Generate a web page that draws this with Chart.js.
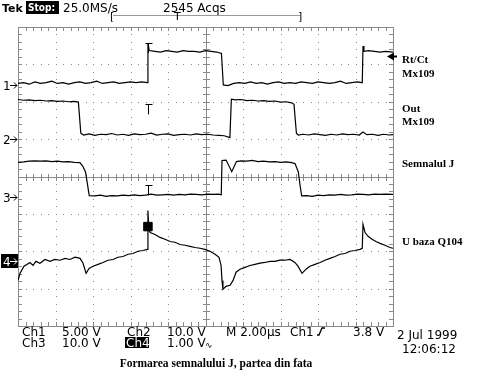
<!DOCTYPE html>
<html>
<head>
<meta charset="utf-8">
<script src="https://cdn.jsdelivr.net/npm/chart.js@4"></script>
<style>
  body { margin: 0; background: #fff; }
  canvas { display: block; }
</style>
</head>
<body>
<canvas id="scope" width="480" height="384"></canvas>
<script>
// data: time in µs (2 µs/div), values in volts

// Ch1 - Rt/Ct Mx109 (5 V/div)
const ch1Time = [0,0.3,0.6,0.9,1.2,1.5,1.8,2.1,2.4,2.7,3.0,3.3,3.6,3.9,4.2,4.5,4.8,5.1,5.4,5.7,6.0,6.3,6.6,6.9,
  6.93,7.0,7.3,7.6,7.9,8.2,8.5,8.8,9.1,9.4,9.7,10.0,10.3,10.6,10.85,
  10.95,11.2,11.5,11.8,12.1,12.4,12.7,13.0,13.3,13.6,13.9,14.2,14.5,14.8,15.1,15.4,15.7,16.0,16.3,16.6,16.9,17.2,17.5,17.8,18.1,18.36,
  18.4,18.45,18.7,19.0,19.3,19.6,20];
const ch1Volts = [0.2,0.3,0.1,0.4,0.2,0.3,0.5,0.2,0.3,0.1,0.3,0.4,0.2,0.3,0.5,0.2,0.3,0.4,0.2,0.3,0.4,0.3,0.4,0.3,
  5.6,4.6,4.5,4.4,4.6,4.5,4.4,4.6,4.5,4.5,4.4,4.6,4.5,4.4,4.2,
  0.0,-0.1,0.2,0.3,0.2,0.4,0.2,0.3,0.1,0.3,0.4,0.2,0.3,0.2,0.4,0.3,0.2,0.4,0.3,0.2,0.3,0.5,0.2,0.3,0.4,0.3,
  5.2,4.5,4.6,4.5,4.4,4.5,4.4];

// Ch2 - Out Mx109 (10 V/div)
const ch2Time = [0,0.3,0.6,0.9,1.2,1.5,1.8,2.1,2.4,2.7,3.0,3.22,
  3.35,3.5,3.8,4.1,4.4,4.7,5.0,5.3,5.6,5.9,6.2,6.5,6.8,7.1,7.4,7.7,8.0,8.3,8.6,8.9,9.2,9.5,9.8,10.1,10.4,10.7,11.0,11.3,
  11.38,11.6,11.9,12.2,12.5,12.8,13.1,13.4,13.7,14.0,14.3,14.6,14.72,
  14.85,14.95,15.2,15.5,15.8,16.1,16.4,16.7,17.0,17.3,17.6,17.9,18.2,18.4,18.6,18.9,19.2,19.5,19.8,20];
const ch2Volts = [10.5,10.3,10.4,10.2,10.3,10.1,10.2,10.0,10.1,9.9,10.0,9.8,
  1.5,1.0,1.3,0.9,1.2,1.1,1.4,1.0,1.2,0.9,1.3,1.1,1.2,1.5,1.0,1.2,1.3,0.9,1.1,1.2,1.0,1.3,1.1,1.2,1.0,0.9,0.8,0.3,
  10.6,10.4,10.5,10.2,10.3,10.1,10.2,10.0,10.1,9.8,9.9,9.6,9.2,
  1.4,1.0,1.2,1.0,1.3,1.1,0.9,1.2,1.0,1.3,1.1,1.2,1.0,1.8,1.1,1.2,0.9,1.2,1.0,1.1];

// Ch3 - Semnalul J (10 V/div)
const ch3Time = [0,0.3,0.6,0.9,1.2,1.5,1.8,2.1,2.4,2.7,3.0,3.3,
  3.45,3.6,3.72,3.8,4.1,4.4,4.7,5.0,5.3,5.6,5.9,6.2,6.5,6.8,7.1,7.4,7.7,8.0,8.3,8.6,8.9,9.2,9.5,9.8,10.1,10.4,10.7,10.84,
  10.88,11.1,11.4,11.65,11.9,12.2,12.5,12.8,13.1,13.4,13.7,14.0,14.3,14.6,14.78,
  14.95,15.05,15.13,15.4,15.7,16.0,16.3,16.6,16.9,17.2,17.5,17.8,18.1,18.4,18.7,19.0,19.3,19.6,20];
const ch3Volts = [9.4,9.5,9.7,9.8,9.7,9.8,9.6,9.7,9.5,9.6,9.4,9.3,
  8.4,6.8,3.0,0.5,0.4,0.6,0.3,0.5,0.4,0.6,0.5,0.7,0.5,0.6,0.9,0.6,0.7,0.8,0.6,0.8,0.7,0.9,0.8,0.7,0.9,0.8,0.9,0.7,
  9.9,10.0,6.9,9.6,9.8,9.7,9.9,9.6,9.7,9.5,9.6,9.4,9.5,9.3,9.0,
  6.8,3.0,0.4,0.5,0.3,0.6,0.5,0.7,0.6,0.8,0.6,0.7,0.9,0.8,0.7,0.9,0.8,0.9,0.8];

// Ch4 - U baza Q104 (1 V/div)
const ch4Time = [0,0.11,0.32,0.64,0.8,0.96,1.17,1.44,1.71,1.97,2.24,2.51,2.77,3.04,3.31,3.47,3.63,3.79,4.0,4.27,4.53,4.8,5.07,5.33,5.6,5.87,6.13,6.4,6.67,6.9,
  6.93,6.98,7.05,7.31,7.57,7.84,8.11,8.37,8.64,8.91,9.17,9.44,9.71,9.97,10.24,10.51,10.72,10.83,10.88,10.93,
  11.09,11.31,11.47,11.63,11.84,12.11,12.37,12.64,12.91,13.17,13.44,13.71,13.97,14.24,14.51,14.77,14.93,15.15,
  15.36,15.57,15.84,16.11,16.37,16.64,16.91,17.17,17.44,17.71,17.97,18.24,18.36,
  18.4,18.51,18.67,18.88,19.09,19.31,19.57,19.84,20];
const ch4Volts = [-0.51,-0.32,-0.13,-0.03,-0.11,0.0,-0.05,0.05,0.0,0.05,0.03,0.08,0.05,0.11,0.08,-0.05,-0.32,-0.19,-0.13,-0.08,-0.03,0.03,0.05,0.11,0.13,0.19,0.21,0.27,0.29,0.32,
  1.36,0.85,0.77,0.72,0.64,0.59,0.53,0.51,0.45,0.43,0.40,0.37,0.35,0.32,0.27,0.19,0.11,-0.11,-0.51,-0.75,
  -0.67,-0.64,-0.51,-0.29,-0.21,-0.16,-0.11,-0.08,-0.05,-0.03,0.0,0.0,0.03,0.03,0.05,-0.03,-0.13,-0.32,
  -0.21,-0.13,-0.08,-0.03,0.03,0.08,0.13,0.19,0.21,0.27,0.29,0.32,0.35,
  0.99,0.77,0.67,0.59,0.53,0.48,0.43,0.37,0.35];

// channel ground positions (divisions from bottom) and V/div
const groundDiv = [6.45, 5.01, 3.44, 1.73];
const voltsPerDiv = [5, 10, 10, 1];
const channelNames = ['Rt/Ct\nMx109', 'Out\nMx109', 'Semnalul J', 'U baza Q104'];

const triggerTime = 6.93;
const triggerLevel = 3.8; // Ch1
const markerVolts = 0.93; // Ch4 square

function toPoints(times, volts, ch) {
  return times.map((t, i) => ({ x: t, y: groundDiv[ch] + volts[i] / voltsPerDiv[ch] }));
}

const traces = [
  toPoints(ch1Time, ch1Volts, 0),
  toPoints(ch2Time, ch2Volts, 1),
  toPoints(ch3Time, ch3Volts, 2),
  toPoints(ch4Time, ch4Volts, 3)
];

const datasets = traces.map((pts, i) => ({
  label: 'Ch' + (i + 1),
  data: pts,
  showLine: true,
  borderColor: '#000',
  borderWidth: 1.2,
  pointRadius: 0,
  tension: 0
}));

datasets.push({
  label: 'marker',
  data: [{ x: triggerTime, y: groundDiv[3] + markerVolts / voltsPerDiv[3] }],
  showLine: false,
  pointStyle: 'rect',
  pointRadius: 6,
  backgroundColor: '#000',
  borderColor: '#000',
  borderWidth: 1
});

const GRID = '#8a8a8a';

const scopeGrid = {
  id: 'scopeGrid',
  beforeDatasetsDraw(chart) {
    const { ctx, chartArea: a, scales: { x, y } } = chart;
    ctx.save();
    ctx.fillStyle = GRID;
    // dotted division lines
    for (let i = 1; i < 10; i++) {
      if (i === 5) continue;
      const px = Math.round(x.getPixelForValue(i * 2));
      for (let j = 1; j < 40; j++) {
        ctx.fillRect(px, Math.round(y.getPixelForValue(j / 5)), 1, 1);
      }
    }
    for (let j = 1; j < 8; j++) {
      if (j === 4) continue;
      const py = Math.round(y.getPixelForValue(j));
      for (let i = 1; i < 50; i++) {
        ctx.fillRect(Math.round(x.getPixelForValue(i * 0.4)), py, 1, 1);
      }
    }
    // center cross with ticks
    const cx = Math.round(x.getPixelForValue(10));
    const cy = Math.round(y.getPixelForValue(4));
    ctx.fillRect(cx, a.top, 1, a.bottom - a.top);
    ctx.fillRect(a.left, cy, a.right - a.left, 1);
    for (let j = 1; j < 40; j++) {
      const py = Math.round(y.getPixelForValue(j / 5));
      ctx.fillRect(cx - 3, py, 7, 1);
      ctx.fillRect(a.left, py, 4, 1);
      ctx.fillRect(a.right - 4, py, 4, 1);
    }
    for (let i = 1; i < 50; i++) {
      const px = Math.round(x.getPixelForValue(i * 0.4));
      ctx.fillRect(px, cy - 3, 1, 7);
      ctx.fillRect(px, a.top, 1, 4);
      ctx.fillRect(px, a.bottom - 4, 1, 4);
    }
    // border
    ctx.strokeStyle = GRID;
    ctx.lineWidth = 1;
    ctx.strokeRect(Math.round(a.left) + 0.5, Math.round(a.top) + 0.5, Math.round(a.right - a.left), Math.round(a.bottom - a.top));
    ctx.restore();
  },
  afterDraw(chart) {
    const { ctx, chartArea: a, scales: { x, y } } = chart;
    ctx.save();
    ctx.fillStyle = '#000';
    ctx.strokeStyle = '#000';
    ctx.lineWidth = 1;
    ctx.textBaseline = 'alphabetic';

    // trigger "T" marks on ch1..ch3
    const tx = Math.round(x.getPixelForValue(triggerTime)) + 0.5;
    [1.12, 0.92, 0.32].forEach((up, k) => {
      const yTop = y.getPixelForValue(groundDiv[k] + up);
      ctx.beginPath();
      ctx.moveTo(tx - 3, Math.round(yTop) + 0.5);
      ctx.lineTo(tx + 4, Math.round(yTop) + 0.5);
      ctx.moveTo(tx, yTop);
      ctx.lineTo(tx, yTop + 10);
      ctx.stroke();
    });

    // trigger level arrow at right edge
    const ay = y.getPixelForValue(groundDiv[0] + triggerLevel / voltsPerDiv[0]);
    ctx.beginPath();
    ctx.moveTo(a.right - 6, ay);
    ctx.lineTo(a.right + 1, ay - 4);
    ctx.lineTo(a.right + 1, ay + 4);
    ctx.closePath();
    ctx.fill();
    ctx.fillRect(a.right, ay - 1, 4, 2);

    // channel ground markers on the left
    ctx.font = '12px "DejaVu Sans"';
    groundDiv.forEach((g, i) => {
      const gy = Math.round(y.getPixelForValue(g));
      if (i === 3) {
        ctx.fillRect(1, gy - 7, 17, 14);
        ctx.fillStyle = '#fff';
        ctx.strokeStyle = '#fff';
      }
      ctx.fillText(String(i + 1), 3, gy + 5);
      ctx.beginPath();
      ctx.moveTo(10, gy + 0.5);
      ctx.lineTo(17, gy + 0.5);
      ctx.moveTo(14, gy - 2.5);
      ctx.lineTo(17, gy + 0.5);
      ctx.lineTo(14, gy + 3.5);
      ctx.stroke();
      ctx.fillStyle = '#000';
      ctx.strokeStyle = '#000';
    });

    // channel names on the right
    ctx.font = 'bold 11px "Liberation Serif"';
    const nameY = [[63, 77], [112, 125], [167], [245]];
    channelNames.forEach((n, i) => {
      n.split('\n').forEach((line, k) => ctx.fillText(line, 402, nameY[i][k]));
    });

    // header
    ctx.font = 'bold 11px "DejaVu Sans"';
    ctx.fillText('Tek', 2, 12);
    ctx.fillRect(26, 1, 33, 13);
    ctx.fillStyle = '#fff';
    ctx.font = 'bold 10px "DejaVu Sans Condensed", "DejaVu Sans"';
    ctx.fillText('Stop:', 28, 11);
    ctx.fillStyle = '#000';
    ctx.font = '12px "DejaVu Sans"';
    ctx.fillText('25.0MS/s', 63, 12);
    ctx.fillText('2545 Acqs', 163, 12);
    ctx.fillStyle = '#999';
    ctx.fillRect(113, 15, 187, 1);
    ctx.fillStyle = '#000';
    ctx.font = '11px "DejaVu Sans"';
    ctx.fillText('[', 110, 20);
    ctx.fillText(']', 298, 20);
    ctx.fillText('T', 174, 20);

    // readouts
    ctx.font = '12px "DejaVu Sans"';
    ctx.fillText('Ch1', 22, 336);
    ctx.fillText('5.00 V', 62, 336);
    ctx.fillText('Ch2', 127, 336);
    ctx.fillText('10.0 V', 167, 336);
    ctx.fillText('M 2.00\u00b5s', 226, 336);
    ctx.fillText('Ch1', 290, 336);
    ctx.fillText('3.8 V', 353, 336);
    ctx.fillText('Ch3', 22, 347);
    ctx.fillText('10.0 V', 62, 347);
    ctx.fillRect(125, 337, 24, 11);
    ctx.fillStyle = '#fff';
    ctx.fillText('Ch4', 126, 347);
    ctx.fillStyle = '#000';
    ctx.fillText('1.00 V', 167, 347);
    ctx.font = '9px "DejaVu Sans"';
    ctx.fillText('\u223f', 205, 348);
    ctx.font = '12px "DejaVu Sans"';
    ctx.fillText('2 Jul 1999', 397, 339);
    ctx.fillText('12:06:12', 402, 353);
    // rising edge symbol
    ctx.lineWidth = 1.3;
    ctx.beginPath();
    ctx.moveTo(317, 335);
    ctx.lineTo(319, 335);
    ctx.lineTo(322, 328);
    ctx.lineTo(325, 328);
    ctx.stroke();

    // caption
    ctx.font = 'bold 11.5px "Liberation Serif"';
    ctx.textAlign = 'center';
    ctx.fillText('Formarea semnalului J, partea din fata', 216, 367);
    ctx.restore();
  }
};

new Chart(document.getElementById('scope'), {
  type: 'scatter',
  data: { datasets },
  options: {
    responsive: false,
    animation: false,
    layout: { padding: { left: 18, top: 27, right: 87, bottom: 58 } },
    scales: {
      x: { type: 'linear', min: 0, max: 20, display: false },
      y: { type: 'linear', min: 0, max: 8, display: false }
    },
    plugins: { legend: { display: false }, tooltip: { enabled: false } }
  },
  plugins: [scopeGrid]
});
</script>
</body>
</html>
